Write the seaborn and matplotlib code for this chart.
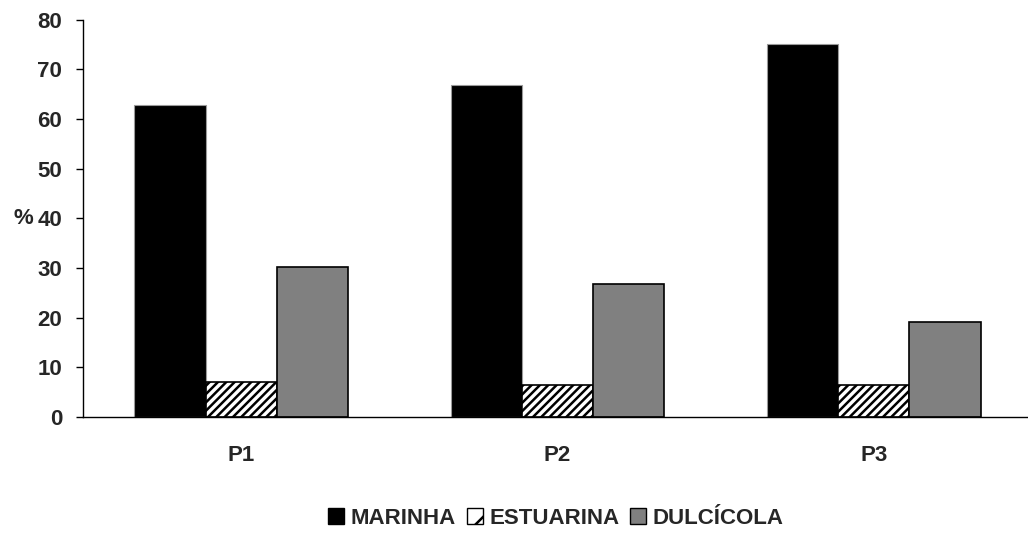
import pandas as pd
import numpy as np
import matplotlib
matplotlib.use("Agg")
import matplotlib.pyplot as plt
import seaborn as sns
from matplotlib.patches import Patch

# ==================== 数据 ====================
pontos = ["P1", "P2", "P3"]
marinha = [62.8, 66.9, 75.0]
estuarina = [7.1, 6.4, 6.4]
dulcicola = [30.2, 26.8, 19.2]
grupos = ["MARINHA", "ESTUARINA", "DULCÍCOLA"]
y_ticks = [0, 10, 20, 30, 40, 50, 60, 70, 80]

df = pd.DataFrame({
    "Ponto": pontos * 3,
    "Grupo": [grupos[0]] * 3 + [grupos[1]] * 3 + [grupos[2]] * 3,
    "Valor": marinha + estuarina + dulcicola,
})

# ==================== 绘图 ====================
sns.set_theme(style="white")
plt.rcParams['font.family'] = ['Liberation Sans', 'DejaVu Sans']
plt.rcParams['font.weight'] = 'bold'
plt.rcParams['hatch.linewidth'] = 1.8

cores = {"MARINHA": "#000000", "ESTUARINA": "#ffffff", "DULCÍCOLA": "#808080"}
fs = 16

fig = plt.figure(figsize=(10.28, 5.33), dpi=100)
ax = fig.add_axes([83 / 1028, 1 - 417 / 533, (1032 - 83) / 1028, (417 - 19.5) / 533])

sns.barplot(data=df, x="Ponto", y="Valor", hue="Grupo", order=pontos, hue_order=grupos,
            palette=cores, width=0.675, gap=0, legend=False, ax=ax)

# 边框与斜线
for cont, g in zip(ax.containers, grupos):
    for bar in cont:
        if g == "MARINHA":
            bar.set_edgecolor("#9a9a9a")
            bar.set_linewidth(0.8)
        else:
            bar.set_edgecolor("black")
            bar.set_linewidth(1.2)
        if g == "ESTUARINA":
            bar.set_hatch("////")

ax.set_xlim(-0.5, 2.5)
ax.set_ylim(0, 80)
ax.set_yticks(y_ticks)
ax.set_yticklabels([str(t) for t in y_ticks], fontsize=fs, fontweight='bold')
ax.set_xticks(range(len(pontos)))
ax.set_xticklabels(pontos, fontsize=fs, fontweight='bold')
ax.set_xticks([-0.5, 0.5, 1.5, 2.5], minor=True)
ax.tick_params(axis='x', which='major', length=0, pad=20)
ax.tick_params(axis='x', which='minor', length=5, width=1, color='#777777', direction='out')
ax.tick_params(axis='y', length=5, width=1, color='black', direction='out', left=True, pad=10)

ax.set_xlabel("")
ax.set_ylabel("%", rotation=0, fontsize=fs, fontweight='bold', ha='right', va='center')
ax.yaxis.set_label_coords(-0.052, 0.5)

for s in ["top", "right"]:
    ax.spines[s].set_visible(False)
for s in ["left", "bottom"]:
    ax.spines[s].set_color("black")
    ax.spines[s].set_linewidth(1)

handles = [Patch(facecolor=cores[g], edgecolor="black", linewidth=1,
                 hatch="/" if g == "ESTUARINA" else None, label=g) for g in grupos]
fig.legend(handles=handles, loc="center", bbox_to_anchor=(556 / 1028, 0.028), ncol=3,
           frameon=False, handlelength=0.7, handleheight=0.7,
           handletextpad=0.3, columnspacing=0.5, prop={'weight': 'bold', 'size': fs})

fig.savefig("out.png", dpi=100)
